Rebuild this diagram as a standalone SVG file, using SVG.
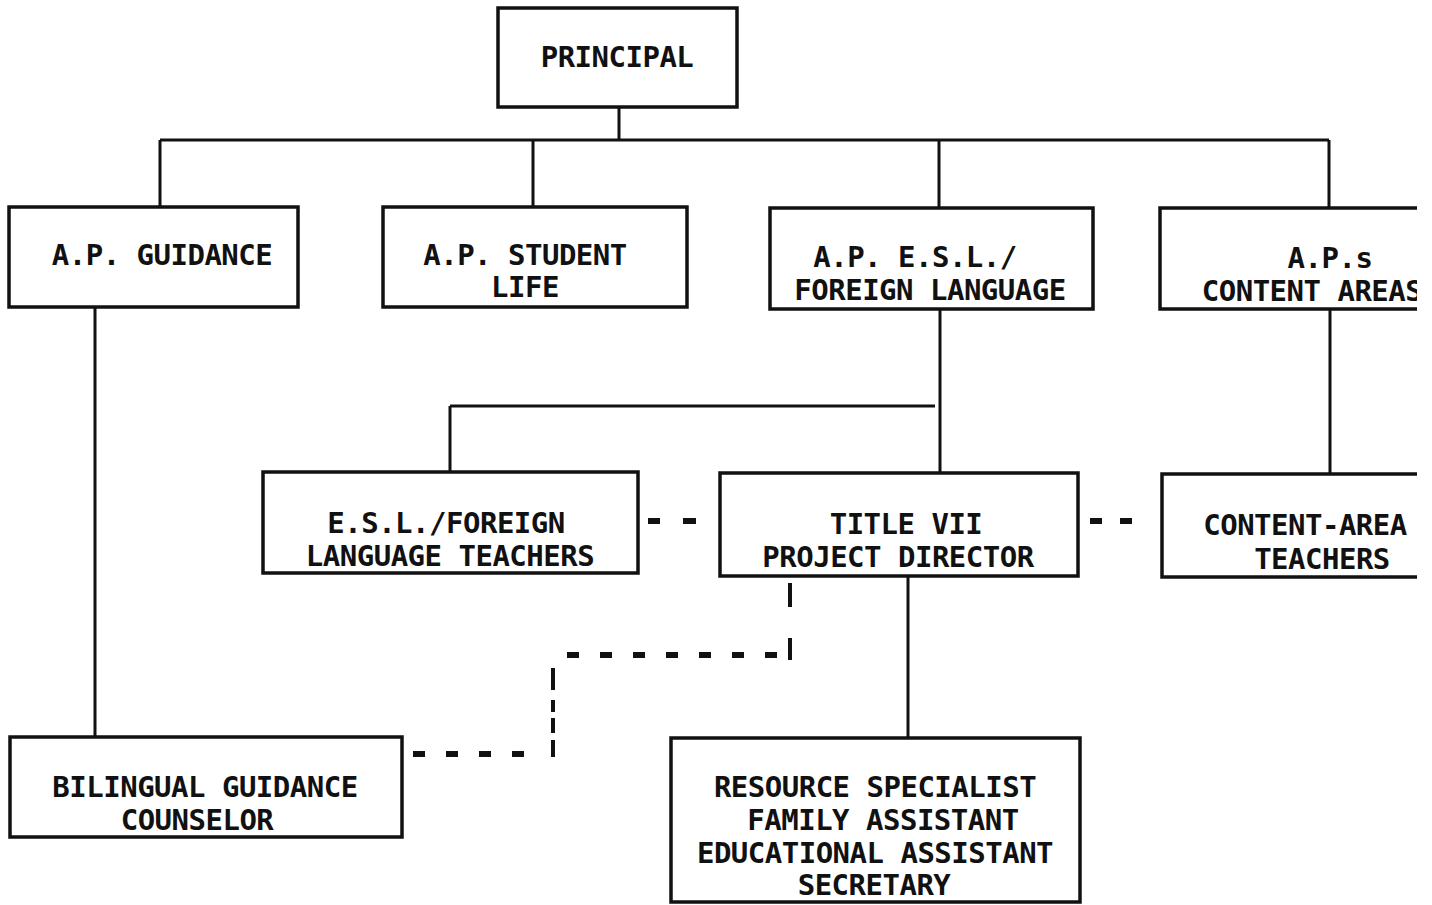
<svg xmlns="http://www.w3.org/2000/svg" width="1432" height="905" viewBox="0 0 1432 905">
<style>
.box{fill:none;stroke:#111;stroke-width:3.5}
.ln{fill:none;stroke:#111;stroke-width:3}
.dash{fill:none;stroke:#111;stroke-width:6;stroke-dasharray:12 21}
.t{font-family:"DejaVu Sans Mono","Liberation Mono",monospace;font-weight:bold;font-size:29px;letter-spacing:-0.5px;fill:#111;text-anchor:middle}
</style>
<defs><clipPath id="c"><rect x="0" y="0" width="1417" height="905"/></clipPath></defs>
<rect width="1432" height="905" fill="#fff"/>
<g clip-path="url(#c)">
<g id="connectors">
<path class="ln" d="M619 107V140M160 140H1329M160 140V207M533 140V207M939 140V208M1329 140V208"/>
<path class="ln" d="M95 307V738M940 309V473M450 406H935M450 406V472M1330 309V474M908 576V738"/>
<path class="ln" d="M648 521H660M683 521H696M1090 521H1102M1120 521H1132" style="stroke-width:6"/>
<path class="ln" d="M790 583V607M790 638V660" style="stroke-width:4"/>
<path class="dash" d="M777 655H565"/>
<path class="ln" d="M553 668V690M553 700V712M553 718V733M553 740V757" style="stroke-width:4"/>
<path class="dash" d="M413 754H530"/>
</g>
<g id="principal"><rect class="box" x="498" y="8" width="239" height="99"/><text class="t" x="617" y="67">PRINCIPAL</text></g>
<g id="ap-guidance"><rect class="box" x="9" y="207" width="289" height="100"/><text class="t" x="162" y="265">A.P. GUIDANCE</text></g>
<g id="ap-student-life"><rect class="box" x="383" y="207" width="304" height="100"/><text class="t" x="525" y="265">A.P. STUDENT</text><text class="t" x="525" y="297">LIFE</text></g>
<g id="ap-esl"><rect class="box" x="770" y="208" width="323" height="101"/><text class="t" x="915" y="267">A.P. E.S.L./</text><text class="t" x="930" y="300">FOREIGN LANGUAGE</text></g>
<g id="ap-content"><rect class="box" x="1160" y="208" width="300" height="101"/><text class="t" x="1330" y="268">A.P.s</text><text class="t" x="1312" y="301">CONTENT AREAS</text></g>
<g id="esl-teachers"><rect class="box" x="263" y="472" width="375" height="101"/><text class="t" x="446" y="533">E.S.L./FOREIGN</text><text class="t" x="450" y="566">LANGUAGE TEACHERS</text></g>
<g id="title-vii"><rect class="box" x="720" y="473" width="358" height="103"/><text class="t" x="906" y="534">TITLE VII</text><text class="t" x="898" y="567">PROJECT DIRECTOR</text></g>
<g id="content-teachers"><rect class="box" x="1162" y="474" width="300" height="103"/><text class="t" x="1305" y="535">CONTENT-AREA</text><text class="t" x="1322" y="569">TEACHERS</text></g>
<g id="bilingual"><rect class="box" x="10" y="737" width="392" height="100"/><text class="t" x="205" y="797">BILINGUAL GUIDANCE</text><text class="t" x="197" y="830">COUNSELOR</text></g>
<g id="staff"><rect class="box" x="671" y="738" width="409" height="164"/><text class="t" x="875" y="797">RESOURCE SPECIALIST</text><text class="t" x="883" y="830">FAMILY ASSISTANT</text><text class="t" x="875" y="863">EDUCATIONAL ASSISTANT</text><text class="t" x="874" y="895">SECRETARY</text></g>
</g>
</svg>
